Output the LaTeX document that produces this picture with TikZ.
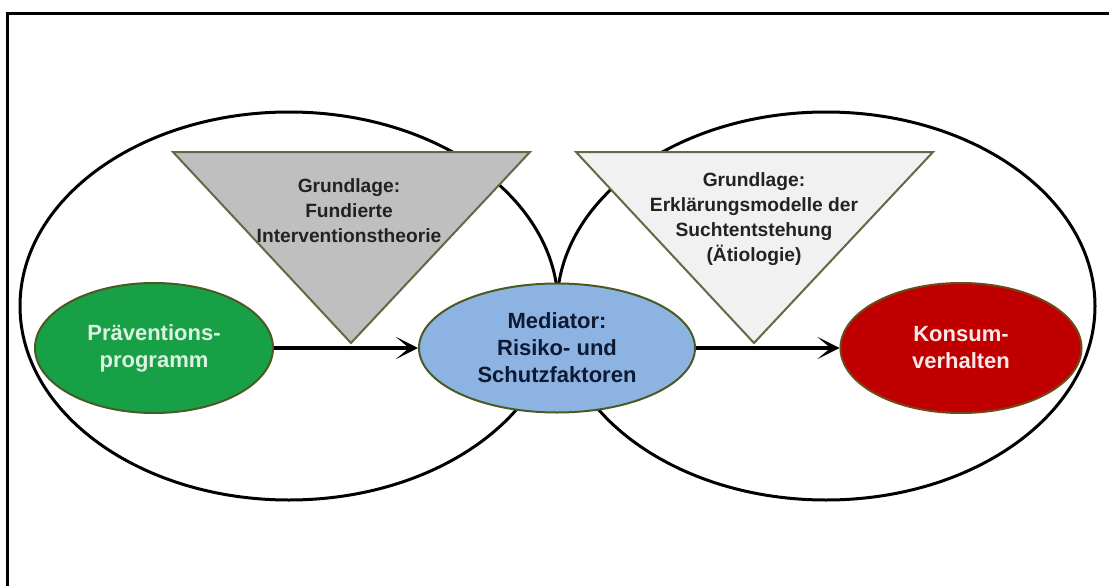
\documentclass[tikz,border=0pt]{standalone}
\usepackage{fontspec}
\setmainfont{Liberation Sans}
\usetikzlibrary{shapes.geometric,arrows.meta}
\definecolor{gfill}{HTML}{18A046}
\definecolor{gtext}{HTML}{DDF3E2}
\definecolor{bfill}{HTML}{8DB3E2}
\definecolor{btext}{HTML}{0E1A33}
\definecolor{rfill}{HTML}{C00000}
\definecolor{rtext}{HTML}{F8E8E8}
\definecolor{nborder}{HTML}{4A5A24}
\definecolor{rborder}{HTML}{6E4A18}
\definecolor{triborder}{HTML}{5E6B45}
\definecolor{darktri}{HTML}{BFBFBF}
\definecolor{lighttri}{HTML}{F1F1F1}
\definecolor{tritextc}{HTML}{222222}
\begin{document}
\begin{tikzpicture}[x=1pt,y=-1pt,
  bigell/.style={draw=black,line width=3pt},
  tri/.style={draw=triborder,line width=2pt,line join=miter},
  nodeell/.style={ellipse,line width=2pt,inner sep=0pt,align=center,
    font=\bfseries\fontsize{22}{27}\selectfont},
  tritext/.style={align=center,inner sep=0pt,text=tritextc,
    font=\bfseries\fontsize{19.2}{25}\selectfont},
  flow/.style={line width=4.5pt,-{Stealth[length=22pt,width=22pt,inset=13pt]}}
]
\useasboundingbox (0,0) rectangle (1109,586);
\fill[white] (0,0) rectangle (1109,586);
% frame
\draw[line width=3pt] (1125,14) -- (7,14) -- (7,600);
% big ellipses
\draw[bigell] (289,306) ellipse [x radius=269pt, y radius=194pt];
\draw[bigell] (826,306) ellipse [x radius=269pt, y radius=194pt];
% triangles
\draw[tri,fill=darktri] (173,152) -- (530,152) -- (351,343) -- cycle;
\draw[tri,fill=lighttri] (576,152) -- (933,152) -- (754,343) -- cycle;
\node[tritext] (t1) at (349,211) {Grundlage:\\Fundierte\\Interventionstheorie};
\node[tritext] (t2) at (754,219.5) {Grundlage:\\Erklärungsmodelle der\\Suchtentstehung\\(Ätiologie)};
% nodes
\node[nodeell,draw=nborder,fill=gfill,text=gtext,minimum width=238pt,minimum height=130pt] (p) at (154,348) {Präventions-\\programm};
\node[nodeell,draw=nborder,fill=bfill,text=btext,minimum width=276pt,minimum height=129pt] (m) at (557,348) {Mediator:\\Risiko- und\\Schutzfaktoren};
\node[nodeell,draw=rborder,fill=rfill,text=rtext,minimum width=241pt,minimum height=130pt] (k) at (961,348) {Konsum-\\verhalten};
% arrows
\draw[flow] (p) -- (m);
\draw[flow] (m) -- (k);
\end{tikzpicture}
\end{document}
